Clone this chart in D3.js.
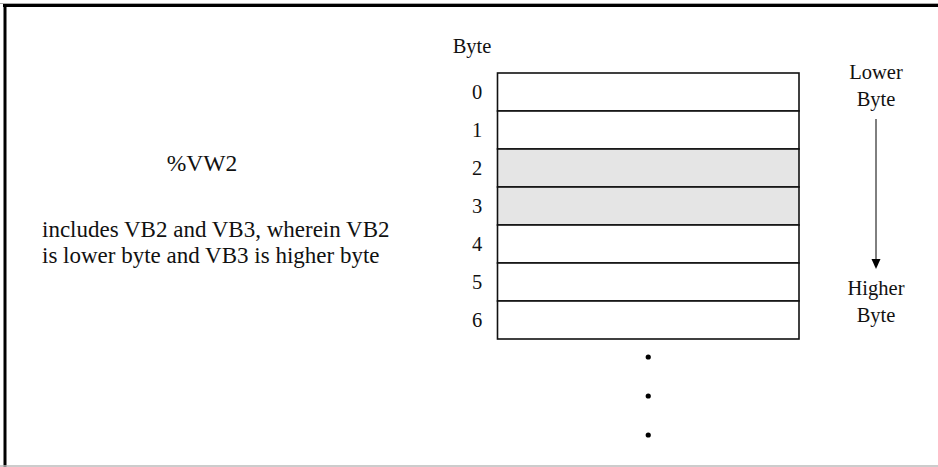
<!DOCTYPE html>
<html><head><meta charset="utf-8">
<script src="https://cdn.jsdelivr.net/npm/d3@7"></script>
<style>html,body{margin:0;padding:0;background:#fff;}svg{display:block;}</style>
</head><body>
<script>
const byteIndices = [0, 1, 2, 3, 4, 5, 6];
const highlighted = [2, 3];
const continuationDots = [0, 1, 2];
const titleLabel = "%VW2";
const descriptionLines = ["includes VB2 and VB3, wherein VB2", "is lower byte and VB3 is higher byte"];
const axisTitle = "Byte";
const topLabel = ["Lower", "Byte"];
const bottomLabel = ["Higher", "Byte"];

const W = 938, H = 467;
const svg = d3.select("body").append("svg").attr("width", W).attr("height", H);
const font = "'Liberation Serif', 'Times New Roman', serif";
const ink = "#111";

// frame
svg.append("line").attr("x1", 0).attr("x2", W).attr("y1", 3.5).attr("y2", 3.5).attr("stroke", "#aaa").attr("stroke-width", 1);
svg.append("line").attr("x1", 3).attr("x2", W).attr("y1", 5.5).attr("y2", 5.5).attr("stroke", "#000").attr("stroke-width", 3);
svg.append("line").attr("x1", 5).attr("x2", 5).attr("y1", 4).attr("y2", H).attr("stroke", "#000").attr("stroke-width", 3);
svg.append("line").attr("x1", 0).attr("x2", W).attr("y1", 466).attr("y2", 466).attr("stroke", "#bbb").attr("stroke-width", 1.5);

const y = d3.scaleBand().domain(byteIndices).range([73, 73 + 38 * byteIndices.length]).padding(0);
const x0 = 497.5, x1 = 799;

svg.append("g").selectAll("rect").data(byteIndices).join("rect")
  .attr("x", x0).attr("y", d => y(d)).attr("width", x1 - x0).attr("height", y.bandwidth())
  .attr("fill", d => highlighted.includes(d) ? "#e5e5e5" : "#fff")
  .attr("stroke", "#111").attr("stroke-width", 1.6);

svg.append("g").selectAll("text").data(byteIndices).join("text")
  .attr("x", 477).attr("y", d => y(d) + y.bandwidth() / 2).attr("dy", "0.35em")
  .attr("text-anchor", "middle").attr("font-family", font).attr("font-size", 20.5)
  .attr("fill", ink).text(d => d);

svg.append("text").attr("x", 472).attr("y", 53).attr("text-anchor", "middle")
  .attr("font-family", font).attr("font-size", 20.5).attr("fill", ink).text(axisTitle);

// dots
const dotY = d3.scaleLinear().domain([0, 2]).range([357, 435]);
svg.append("g").selectAll("circle").data(continuationDots).join("circle")
  .attr("cx", (x0 + x1) / 2).attr("cy", d => dotY(d)).attr("r", 2.6).attr("fill", "#000");

// right labels
const rx = 876;
svg.append("g").selectAll("text").data(topLabel).join("text")
  .attr("x", rx).attr("y", (d, i) => 72 + i * 27).attr("dy", "0.35em").attr("text-anchor", "middle")
  .attr("font-family", font).attr("font-size", 20.5).attr("fill", ink).text(d => d);
svg.append("g").selectAll("text").data(bottomLabel).join("text")
  .attr("x", rx).attr("y", (d, i) => 288 + i * 27).attr("dy", "0.35em").attr("text-anchor", "middle")
  .attr("font-family", font).attr("font-size", 20.5).attr("fill", ink).text(d => d);

svg.append("line").attr("x1", rx).attr("x2", rx).attr("y1", 119).attr("y2", 260).attr("stroke", "#000").attr("stroke-width", 1);
svg.append("path").attr("d", `M${rx - 4.5},259 L${rx + 4.5},259 L${rx},269 Z`).attr("fill", "#000");

// left text
svg.append("text").attr("x", 202).attr("y", 163).attr("dy", "0.35em").attr("text-anchor", "middle")
  .attr("font-family", font).attr("font-size", 23.5).attr("fill", ink).text(titleLabel);
svg.append("g").selectAll("text").data(descriptionLines).join("text")
  .attr("x", 42).attr("y", (d, i) => 229 + i * 26).attr("dy", "0.35em")
  .attr("font-family", font).attr("font-size", 23).attr("fill", ink).text(d => d);
</script>
</body></html>
